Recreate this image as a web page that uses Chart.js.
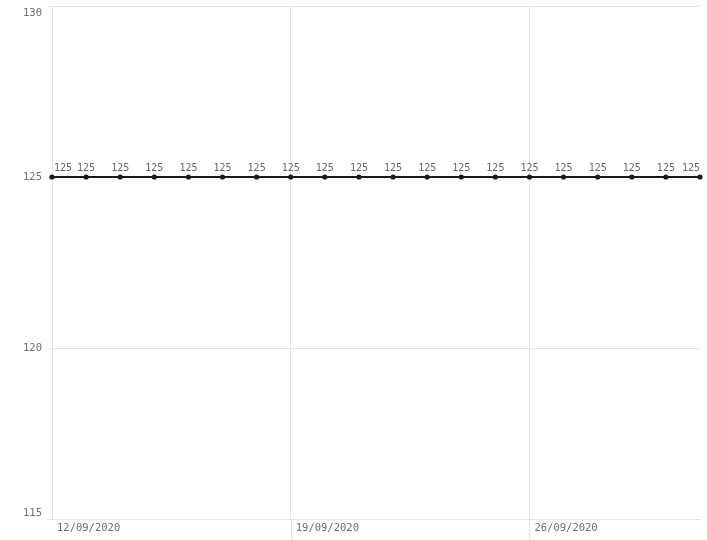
<!DOCTYPE html>
<html>
<head>
<meta charset="utf-8">
<script src="https://cdn.jsdelivr.net/npm/chart.js@4.4.1/dist/chart.umd.min.js"></script>
<style>
  html, body { margin: 0; padding: 0; background: #fff; }
  #wrap { width: 707px; height: 540px; }
</style>
</head>
<body>
<div id="wrap"><canvas id="chart"></canvas></div>
<script>
"use strict"

// data
const dates = [
  "12/09/2020", "13/09/2020", "14/09/2020", "15/09/2020", "16/09/2020",
  "17/09/2020", "18/09/2020", "19/09/2020", "20/09/2020", "21/09/2020",
  "22/09/2020", "23/09/2020", "24/09/2020", "25/09/2020", "26/09/2020",
  "27/09/2020", "28/09/2020", "29/09/2020", "30/09/2020", "01/10/2020"
];
const values = [125, 125, 125, 125, 125, 125, 125, 125, 125, 125,
                125, 125, 125, 125, 125, 125, 125, 125, 125, 125];
const yTicks = [115, 120, 125, 130];
const shownDates = ["12/09/2020", "19/09/2020", "26/09/2020"];

const mono = "'DejaVu Sans Mono', 'Liberation Mono', monospace";
const gridGrey = "#e3e3e3";
const textGrey = "#6e6e6e";

function isShown(i) {
  return shownDates.indexOf(dates[i]) !== -1;
}

// draws value labels, y labels (kept inside the plot) and the long x ticks
const labelPlugin = {
  id: "labels",
  afterDraw(chart) {
    const ctx = chart.ctx;
    const area = chart.chartArea;
    const xs = chart.scales.x;
    const ys = chart.scales.y;
    ctx.save();

    // long tick lines under the x axis
    ctx.strokeStyle = gridGrey;
    ctx.lineWidth = 1;
    for (let i = 1; i < dates.length; i++) {
      if (!isShown(i)) continue;
      const x = Math.round(xs.getPixelForValue(i)) + 0.5;
      ctx.beginPath();
      ctx.moveTo(x, area.bottom);
      ctx.lineTo(x, chart.height);
      ctx.stroke();
    }

    // y tick labels
    ctx.fillStyle = textGrey;
    ctx.font = "10.5px " + mono;
    ctx.textAlign = "right";
    ctx.textBaseline = "middle";
    yTicks.forEach(function (v) {
      let y = ys.getPixelForValue(v);
      y = Math.max(area.top + 7, Math.min(area.bottom - 6, y));
      ctx.fillText(String(v), area.left - 10, y);
    });

    // value labels above the points
    const meta = chart.getDatasetMeta(0);
    ctx.font = "10px " + mono;
    ctx.fillStyle = "#666";
    ctx.textAlign = "left";
    ctx.textBaseline = "alphabetic";
    meta.data.forEach(function (pt, i) {
      const txt = String(values[i]);
      const w = ctx.measureText(txt).width;
      let x = pt.x - w / 2;
      x = Math.max(area.left + 2, Math.min(area.right - w, x));
      ctx.fillText(txt, x, pt.y - 6);
    });

    ctx.restore();
  }
};

const data = {
  labels: dates,
  datasets: [
    {
      label: "Value",
      data: values,
      borderColor: "#1a1a1a",
      backgroundColor: "#1a1a1a",
      borderWidth: 2,
      pointRadius: 2.6,
      pointHoverRadius: 2.6,
      pointBorderWidth: 0,
      tension: 0,
      clip: false
    }
  ]
};

const config = {
  type: "line",
  data: data,
  plugins: [labelPlugin],
  options: {
    responsive: true,
    maintainAspectRatio: false,
    animation: false,
    layout: { padding: { top: 6, right: 7, left: 0, bottom: 0 } },
    plugins: {
      legend: { display: false },
      tooltip: { enabled: false }
    },
    scales: {
      x: {
        type: "category",
        offset: false,
        border: { display: true, color: gridGrey },
        grid: {
          color: function (c) { return (c.index > 0 && isShown(c.index)) ? gridGrey : "rgba(0,0,0,0)"; },
          drawTicks: false
        },
        ticks: {
          autoSkip: false,
          maxRotation: 0,
          align: "start",
          labelOffset: 5,
          padding: 3,
          color: textGrey,
          font: { family: mono, size: 10.5 },
          callback: function (val, i) { return isShown(i) ? dates[i] : ""; }
        },
        afterFit: function (scale) { scale.height = 21; }
      },
      y: {
        min: 115,
        max: 130,
        border: { display: true, color: gridGrey },
        grid: {
          color: gridGrey,
          tickLength: 5,
          tickColor: gridGrey
        },
        ticks: {
          stepSize: 5,
          display: false
        },
        afterFit: function (scale) { scale.width = 52; }
      }
    }
  }
};

const myChart = new Chart(document.getElementById("chart"), config);
</script>
</body>
</html>
